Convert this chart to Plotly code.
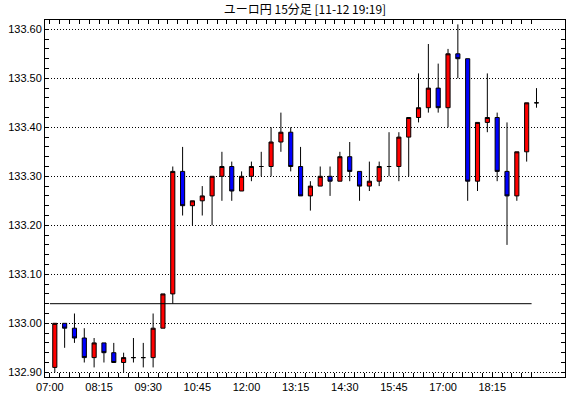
import plotly.graph_objects as go

title_text = "ユーロ円 15分足 [11-12 19:19]"

opens = [132.91, 133.00, 132.99, 132.97, 132.93, 132.96, 132.94, 132.92, 132.93, 132.93,
         132.93, 132.99, 133.06, 133.31, 133.24, 133.25, 133.26, 133.30, 133.32, 133.27,
         133.30, 133.32, 133.32, 133.37, 133.39, 133.32, 133.26, 133.28, 133.30, 133.29,
         133.34, 133.31, 133.28, 133.29, 133.32, 133.32, 133.38, 133.42, 133.44, 133.48,
         133.44, 133.55, 133.54, 133.29, 133.41, 133.42, 133.31, 133.26, 133.35, 133.45]
highs = [133.00, 133.00, 133.02, 132.99, 132.97, 132.96, 132.96, 132.94, 132.97, 132.96,
         133.02, 133.06, 133.32, 133.36, 133.25, 133.28, 133.30, 133.35, 133.33, 133.31,
         133.33, 133.35, 133.40, 133.43, 133.40, 133.36, 133.29, 133.32, 133.32, 133.35,
         133.37, 133.31, 133.33, 133.33, 133.39, 133.39, 133.42, 133.51, 133.57, 133.53,
         133.56, 133.61, 133.54, 133.41, 133.51, 133.43, 133.41, 133.35, 133.45, 133.48]
lows = [132.90, 132.95, 132.96, 132.92, 132.91, 132.92, 132.92, 132.90, 132.92, 132.91,
        132.91, 132.99, 133.04, 133.22, 133.20, 133.22, 133.20, 133.25, 133.25, 133.27,
        133.29, 133.30, 133.30, 133.35, 133.31, 133.26, 133.23, 133.28, 133.26, 133.29,
        133.29, 133.25, 133.27, 133.28, 133.30, 133.29, 133.30, 133.41, 133.43, 133.43,
        133.40, 133.50, 133.25, 133.27, 133.39, 133.29, 133.16, 133.25, 133.33, 133.44]
closes = [133.00, 132.99, 132.97, 132.93, 132.96, 132.94, 132.92, 132.93, 132.93, 132.93,
          132.99, 133.06, 133.31, 133.24, 133.25, 133.26, 133.30, 133.32, 133.27, 133.30,
          133.32, 133.32, 133.37, 133.39, 133.32, 133.26, 133.28, 133.30, 133.29, 133.34,
          133.31, 133.28, 133.29, 133.32, 133.32, 133.38, 133.42, 133.44, 133.48, 133.44,
          133.55, 133.54, 133.29, 133.41, 133.42, 133.31, 133.26, 133.35, 133.45, 133.45]

tick_labels = ["07:00", "08:15", "09:30", "10:45", "12:00",
               "13:15", "14:30", "15:45", "17:00", "18:15"]
label_every = 5
ref_price = 133.04

n = len(opens)
x = list(range(n))
tickvals = [i - 0.5 for i in range(n)]
ticktext = [tick_labels[i // label_every] if i % label_every == 0 else "" for i in range(n)]

fig = go.Figure()
fig.add_trace(go.Scatter(
    x=[-0.5, n - 1.5], y=[ref_price, ref_price], mode="lines",
    line=dict(color="black", width=1), hoverinfo="skip", showlegend=False))
fig.add_trace(go.Candlestick(
    x=x, open=opens, high=highs, low=lows, close=closes,
    increasing=dict(fillcolor="#FF0000", line=dict(color="black", width=1)),
    decreasing=dict(fillcolor="#0000FF", line=dict(color="black", width=1)),
    whiskerwidth=0, showlegend=False))

fig.update_layout(
    width=570, height=398,
    margin=dict(l=45, r=5, t=20, b=21, autoexpand=False),
    paper_bgcolor="white", plot_bgcolor="white",
    boxgap=0.4, showlegend=False,
    font=dict(family="Liberation Sans", size=11, color="black"),
    title=dict(text=title_text, x=305 / 570, xanchor="center", xref="container",
               y=1 - 10 / 398, yanchor="middle", yref="container",
               font=dict(family="Noto Sans CJK JP", size=12, color="black")),
)
fig.update_xaxes(
    range=[-0.997, 51.9], tickmode="array", tickvals=tickvals, ticktext=ticktext,
    ticks="inside", ticklen=4, tickcolor="black", showgrid=False, zeroline=False,
    showline=True, linecolor="black", linewidth=1, mirror="ticks",
    automargin=False, rangeslider=dict(visible=False))
fig.update_yaxes(
    range=[132.8904, 133.619], tickmode="linear", tick0=132.9, dtick=0.1,
    tickformat=".2f", ticks="inside", ticklen=4, tickcolor="black",
    showgrid=True, gridcolor="black", gridwidth=1, griddash="1px,2px",
    minor=dict(ticks="inside", ticklen=4, tick0=132.9, dtick=0.02,
               showgrid=False, tickcolor="black"),
    zeroline=False, showline=True, linecolor="black", linewidth=1, mirror="ticks",
    automargin=False)

fig.write_html("out.html", config={"displayModeBar": False},
               post_script="document.body.style.margin='0px';")
